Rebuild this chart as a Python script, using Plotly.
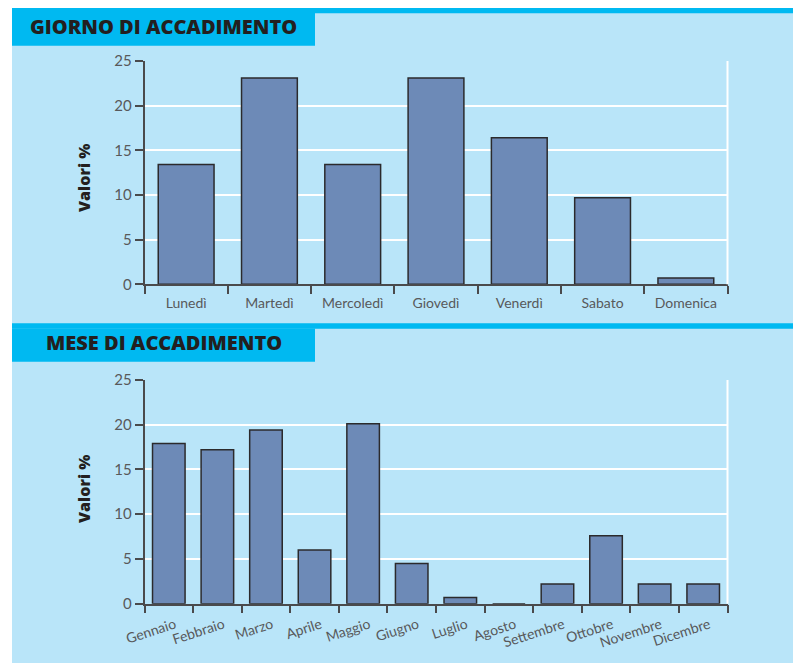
import plotly.graph_objects as go

# ---- data ----
giorni = ["Lunedì", "Martedì", "Mercoledì", "Giovedì", "Venerdì", "Sabato", "Domenica"]
valori_giorni = [13.4, 23.1, 13.4, 23.1, 16.4, 9.7, 0.7]

mesi = ["Gennaio", "Febbraio", "Marzo", "Aprile", "Maggio", "Giugno", "Luglio",
        "Agosto", "Settembre", "Ottobre", "Novembre", "Dicembre"]
valori_mesi = [17.9, 17.2, 19.4, 6.0, 20.1, 4.5, 0.7, 0.0, 2.2, 7.6, 2.2, 2.2]

titolo_1 = "GIORNO DI ACCADIMENTO"
titolo_2 = "MESE DI ACCADIMENTO"
y_title = "Valori %"
y_ticks = [0, 5, 10, 15, 20, 25]

# ---- style ----
OFF = 8  # page body margin
W, H = 801 - OFF, 663 - OFF
CYAN = "#00B9F1"
LIGHT = "#B9E5F9"
PLOTBG = "#E6E7E9"
BAR = "#6D8AB7"
EDGE = "#2B2A2C"
AXIS = "#4A4A4C"
TXT = "#58595B"
DARK = "#231F20"
FONT = "Lato, Open Sans, sans-serif"
BOLD = "Open Sans, sans-serif"


def px(x):
    return (x - OFF) / W


def py(y):
    return 1 - (y - OFF) / H


fig = go.Figure()
fig.add_trace(go.Bar(x=giorni, y=valori_giorni, xaxis="x", yaxis="y",
                     marker=dict(color=BAR, line=dict(color=EDGE, width=1.5)),
                     showlegend=False, hoverinfo="x+y"))
fig.add_trace(go.Bar(x=mesi, y=valori_mesi, xaxis="x2", yaxis="y2",
                     marker=dict(color=BAR, line=dict(color=EDGE, width=1.5)),
                     showlegend=False, hoverinfo="x+y"))

xdom = [px(144.5), px(727.5)]
common_x = dict(showline=True, linecolor=AXIS, linewidth=1.5, ticks="outside",
                tickson="boundaries", ticklen=8, tickcolor=AXIS, tickwidth=1.5,
                showgrid=False, zeroline=False, automargin=False,
                tickfont=dict(family=FONT, size=14, color=TXT),
                domain=xdom, fixedrange=True)
common_y = dict(range=[0, 25], tickvals=y_ticks, showline=True, linecolor=AXIS,
                linewidth=1.5, ticks="outside", ticklen=8, tickcolor=AXIS, tickwidth=1.5,
                showgrid=True, gridcolor="white", gridwidth=1.5, zeroline=False,
                automargin=False,
                tickfont=dict(family=FONT, size=15, color=TXT), fixedrange=True)

shapes = [
    # panel background
    dict(type="rect", xref="paper", yref="paper", x0=px(12), x1=1, y0=0, y1=py(8),
         fillcolor=LIGHT, line=dict(width=0), layer="below"),
    # cyan strips
    dict(type="rect", xref="paper", yref="paper", x0=px(12), x1=1, y0=py(13.3), y1=py(8),
         fillcolor=CYAN, line=dict(width=0), layer="below"),
    dict(type="rect", xref="paper", yref="paper", x0=px(12), x1=1, y0=py(328.7), y1=py(323.3),
         fillcolor=CYAN, line=dict(width=0), layer="below"),
    # header boxes
    dict(type="rect", xref="paper", yref="paper", x0=px(12), x1=px(315), y0=py(45.7), y1=py(13),
         fillcolor=CYAN, line=dict(width=0), layer="below"),
    dict(type="rect", xref="paper", yref="paper", x0=px(12), x1=px(315), y0=py(361.7), y1=py(328.5),
         fillcolor=CYAN, line=dict(width=0), layer="below"),
    # white right edges of plot areas
    dict(type="line", xref="x domain", yref="y domain", x0=1, x1=1, y0=0, y1=1,
         line=dict(color="white", width=2)),
    dict(type="line", xref="x2 domain", yref="y2 domain", x0=1, x1=1, y0=0, y1=1,
         line=dict(color="white", width=2)),
]

annotations = [
    dict(text=titolo_1, xref="paper", yref="paper", x=px(163.5), y=py(26.5),
         xanchor="center", yanchor="middle", showarrow=False,
         font=dict(family=BOLD, size=20, color=DARK, weight=800)),
    dict(text=titolo_2, xref="paper", yref="paper", x=px(163.5), y=py(342),
         xanchor="center", yanchor="middle", showarrow=False,
         font=dict(family=BOLD, size=20, color=DARK, weight=800)),
    dict(text=y_title, xref="paper", yref="paper", x=px(84), y=py(178),
         xanchor="center", yanchor="middle", showarrow=False, textangle=-90,
         font=dict(family=BOLD, size=16, color=DARK, weight=800)),
    dict(text=y_title, xref="paper", yref="paper", x=px(84), y=py(489),
         xanchor="center", yanchor="middle", showarrow=False, textangle=-90,
         font=dict(family=BOLD, size=16, color=DARK, weight=800)),
]

fig.update_layout(
    template="none",
    width=W, height=H, autosize=False,
    margin=dict(l=0, r=0, t=0, b=0, pad=0, autoexpand=False),
    paper_bgcolor="white", plot_bgcolor=PLOTBG,
    bargap=0.33, showlegend=False,
    xaxis=dict(**common_x, anchor="y", ticklabelstandoff=5),
    yaxis=dict(**common_y, domain=[py(284.3), py(61)], anchor="x"),
    xaxis2=dict(**common_x, anchor="y2", tickangle=-18, ticklabelstandoff=6,
                ticklabelshift=6),
    yaxis2=dict(**common_y, domain=[py(603.7), py(380)], anchor="x2"),
    shapes=shapes, annotations=annotations,
)

fig.write_html("out.html")
